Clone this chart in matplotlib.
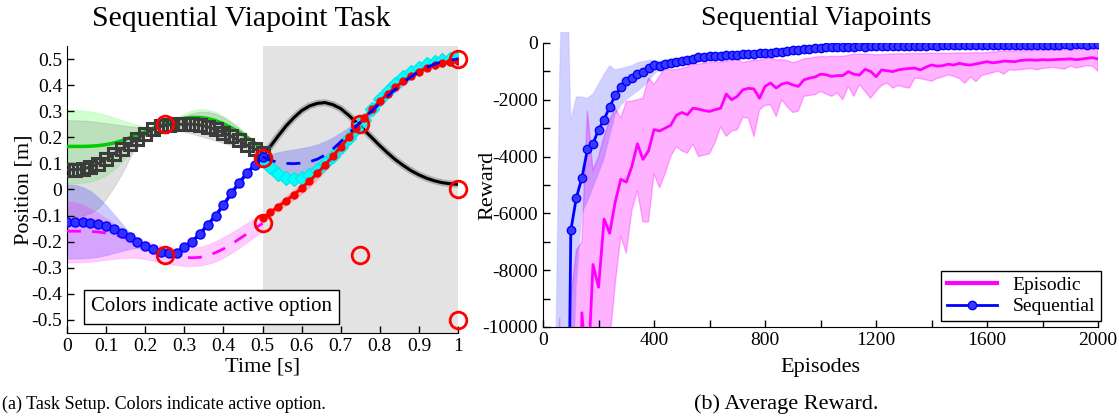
import numpy as np
import matplotlib
matplotlib.use("Agg")
import matplotlib.pyplot as plt
from matplotlib.patches import Rectangle

plt.rcParams['font.family'] = 'serif'
plt.rcParams['font.serif'] = ['Liberation Serif', 'DejaVu Serif']
plt.rcParams['axes.unicode_minus'] = False

# ---------------- left panel: trajectories over time ----------------
t_a = np.round(np.arange(0, 0.501, 0.02), 2)      # first half (0 .. 0.5)
t_b = np.round(np.arange(0.5, 1.001, 0.02), 2)    # second half (0.5 .. 1)

square_y = [0.075, 0.076, 0.079, 0.086, 0.099, 0.117, 0.136, 0.155, 0.175, 0.195, 0.214, 0.23, 0.242,
            0.248, 0.25, 0.25, 0.25, 0.247, 0.24, 0.23, 0.218, 0.204, 0.188, 0.17, 0.155, 0.14]
square_hi = [0.265, 0.265, 0.264, 0.262, 0.258, 0.254, 0.25, 0.246, 0.242, 0.238, 0.236, 0.235, 0.24,
             0.25, 0.265, 0.28, 0.292, 0.298, 0.297, 0.29, 0.276, 0.257, 0.235, 0.21, 0.185, 0.16]
square_lo = [-0.105, -0.104, -0.1, -0.09, -0.07, -0.035, 0.01, 0.06, 0.12, 0.175, 0.21, 0.226, 0.232,
             0.232, 0.228, 0.222, 0.214, 0.205, 0.196, 0.187, 0.178, 0.17, 0.161, 0.152, 0.144, 0.135]

green_y = [0.165, 0.165, 0.165, 0.166, 0.168, 0.172, 0.178, 0.187, 0.198, 0.21, 0.222, 0.235, 0.247,
           0.258, 0.267, 0.273, 0.276, 0.276, 0.272, 0.264, 0.252, 0.237, 0.22, 0.2, 0.178, 0.155]
green_hi = [0.305, 0.305, 0.303, 0.299, 0.293, 0.285, 0.276, 0.266, 0.256, 0.247, 0.241, 0.238, 0.242,
            0.255, 0.273, 0.29, 0.303, 0.308, 0.306, 0.297, 0.282, 0.262, 0.238, 0.21, 0.18, 0.155]
green_lo = [0.024, 0.024, 0.026, 0.03, 0.04, 0.055, 0.077, 0.105, 0.138, 0.172, 0.205, 0.228, 0.238,
            0.24, 0.24, 0.24, 0.24, 0.238, 0.232, 0.222, 0.21, 0.196, 0.18, 0.165, 0.152, 0.14]

dots_y = [-0.123, -0.123, -0.124, -0.127, -0.132, -0.14, -0.152, -0.167, -0.183, -0.2, -0.215, -0.23, -0.24,
          -0.245, -0.243, -0.22, -0.2, -0.17, -0.135, -0.1, -0.06, -0.015, 0.025, 0.062, 0.095, 0.125]
dots_hi = [0.02, 0.018, 0.01, -0.005, -0.03, -0.06, -0.095, -0.13, -0.165, -0.195, -0.215, -0.23, -0.238, -0.24]
dots_lo = [-0.265, -0.265, -0.264, -0.262, -0.258, -0.252, -0.244, -0.236, -0.228, -0.224, -0.226, -0.235,
           -0.245, -0.25]

mag_y = [-0.16, -0.16, -0.16, -0.161, -0.163, -0.167, -0.173, -0.181, -0.19, -0.2, -0.212, -0.224, -0.236,
         -0.247, -0.255, -0.26, -0.262, -0.26, -0.253, -0.242, -0.228, -0.21, -0.19, -0.17, -0.15, -0.13]
mag_hi = [-0.045, -0.048, -0.057, -0.072, -0.09, -0.11, -0.13, -0.15, -0.168, -0.183, -0.196, -0.207, -0.216,
          -0.222, -0.226, -0.227, -0.225, -0.22, -0.211, -0.198, -0.182, -0.165, -0.147, -0.128, -0.11, -0.095]
mag_lo = [-0.28, -0.28, -0.279, -0.277, -0.274, -0.27, -0.266, -0.263, -0.262, -0.263, -0.267, -0.273, -0.28,
          -0.286, -0.29, -0.293, -0.294, -0.292, -0.286, -0.276, -0.262, -0.244, -0.224, -0.203, -0.182, -0.16]

black_y = [0.125, 0.165, 0.205, 0.243, 0.275, 0.302, 0.32, 0.33, 0.333, 0.325, 0.31, 0.285, 0.257,
           0.228, 0.198, 0.168, 0.14, 0.114, 0.092, 0.072, 0.056, 0.043, 0.033, 0.026, 0.022, 0.02]

dash_y = [0.125, 0.112, 0.104, 0.1, 0.099, 0.101, 0.106, 0.116, 0.132, 0.155, 0.183, 0.213, 0.243,
          0.272, 0.302, 0.33, 0.358, 0.385, 0.41, 0.432, 0.452, 0.468, 0.48, 0.49, 0.496, 0.5]
dash_hi = [0.125, 0.135, 0.143, 0.149, 0.154, 0.159, 0.165, 0.173, 0.185, 0.2, 0.218, 0.238, 0.26,
           0.284, 0.31, 0.337, 0.363, 0.39, 0.415, 0.437, 0.457, 0.473, 0.485, 0.494, 0.499, 0.502]
dash_lo = [0.12, 0.09, 0.07, 0.058, 0.052, 0.052, 0.056, 0.066, 0.082, 0.105, 0.135, 0.17, 0.21,
           0.25, 0.285, 0.318, 0.348, 0.375, 0.4, 0.424, 0.446, 0.462, 0.476, 0.487, 0.494, 0.498]

cyan_y = [0.12, 0.085, 0.06, 0.045, 0.04, 0.045, 0.057, 0.075, 0.1, 0.13, 0.163, 0.197, 0.232,
          0.268, 0.31, 0.345, 0.377, 0.405, 0.43, 0.45, 0.467, 0.48, 0.49, 0.497, 0.501, 0.503]

red_y = [-0.11, -0.088, -0.066, -0.043, -0.02, 0.005, 0.032, 0.062, 0.094, 0.128, 0.163, 0.2, 0.237,
         0.273, 0.307, 0.338, 0.366, 0.392, 0.415, 0.435, 0.452, 0.466, 0.477, 0.485, 0.49, 0.492]
red_sd = [0.005, 0.01, 0.014, 0.018, 0.02, 0.022, 0.024, 0.025, 0.025, 0.024, 0.022, 0.02, 0.018,
          0.016, 0.014, 0.012, 0.011, 0.01, 0.009, 0.008, 0.007, 0.006, 0.005, 0.004, 0.004, 0.004]

via_t = [0.25, 0.25, 0.5, 0.5, 0.75, 0.75, 1.0, 1.0, 1.0]
via_y = [0.25, -0.25, 0.12, -0.13, 0.25, -0.25, 0.5, 0.0, -0.5]

# ---------------- right panel: reward curves ----------------
episodes = np.arange(20, 2001, 20)

seq_mean = [-60000, -50000, -40000, -25000, -6600, -5450, -4750, -3750, -3550, -3050,
            -2700, -2250, -1850, -1550, -1350, -1220, -1080, -1040, -900, -780,
            -830, -760, -720, -680, -640, -600, -560, -500, -480, -470,
            -460, -450, -440, -425, -420, -400, -390, -380, -365, -350,
            -340, -320, -305, -290, -260, -240, -220, -205, -190, -170,
            -160, -150, -140, -135, -130, -135, -125, -130, -120, -125,
            -120, -115, -110, -115, -105, -100, -100, -95, -100, -90,
            -95, -90, -85, -90, -80, -85, -80, -75, -80, -75,
            -75, -70, -75, -70, -70, -65, -70, -65, -65, -60,
            -65, -60, -60, -55, -60, -55, -55, -60, -55, -55]
seq_hi = [-40000, -15000, -1000, 6000, -2700, -1900, -1900, -1950, -1800, -1450,
          -1100, -800, -950, -900, -850, -800, -700, -650, -620, -600,
          -640, -600, -570, -540, -510, -480, -450, -420, -400, -395,
          -395, -385, -375, -360, -355, -340, -330, -320, -310, -300,
          -290, -275, -260, -245, -220, -200, -185, -170, -155, -140,
          -130, -120, -110, -105, -100, -105, -95, -100, -90, -95,
          -90, -85, -80, -85, -75, -70, -70, -65, -70, -60,
          -65, -60, -55, -60, -50, -55, -50, -45, -50, -45,
          -45, -40, -45, -40, -40, -35, -40, -35, -35, -30,
          -35, -30, -30, -25, -30, -25, -25, -30, -25, -25]
seq_lo = [-80000, -70000, -60000, -50000, -14000, -8500, -6000, -5600, -5100, -4600,
          -4100, -3300, -2550, -2200, -2000, -1850, -1700, -1550, -1350, -1100,
          -950, -800, -780, -740, -700, -660, -620, -560, -540, -530,
          -520, -510, -500, -485, -480, -460, -450, -440, -420, -400,
          -390, -365, -350, -335, -300, -280, -255, -240, -225, -200,
          -190, -180, -170, -165, -160, -165, -155, -160, -150, -155,
          -150, -145, -140, -145, -135, -130, -130, -125, -130, -120,
          -125, -120, -115, -120, -110, -115, -110, -105, -110, -105,
          -105, -100, -105, -100, -100, -95, -100, -95, -95, -90,
          -95, -90, -90, -85, -90, -85, -85, -90, -85, -85]

epi_mean = [-40000, -38000, -35000, -32000, -28000, -24000, -9500, -12000, -7800, -8600,
            -6200, -6700, -5600, -4800, -4900, -4350, -3550, -4100, -3800, -3050,
            -3100, -3000, -2900, -2550, -2450, -2530, -2300, -2330, -2380, -2410,
            -2350, -2300, -1800, -2000, -1880, -1650, -1600, -1620, -1950, -1530,
            -1410, -1590, -1450, -1400, -1480, -1530, -1300, -1240, -1200, -1100,
            -1120, -1180, -1150, -1150, -1010, -1100, -1130, -930, -1000, -1190,
            -950, -980, -1010, -950, -920, -900, -890, -950, -850, -775,
            -820, -800, -750, -780, -720, -760, -780, -740, -700, -660,
            -700, -680, -640, -650, -660, -620, -600, -600, -610, -590,
            -600, -590, -580, -575, -560, -590, -570, -540, -520, -570]
epi_hi = [-30000, -20000, -9700, -20000, -9000, -7300, -7000, -2400, -4500, -4000,
          -3300, -2700, -2300, -2650, -2070, -2050, -2000, -1950, -1240, -1460,
          -1170, -880, -950, -940, -900, -850, -715, -750, -700, -700,
          -650, -700, -640, -620, -530, -700, -650, -600, -620, -550,
          -530, -600, -590, -620, -700, -640, -560, -540, -500, -480,
          -490, -470, -480, -470, -440, -390, -400, -390, -400, -420,
          -410, -400, -390, -380, -390, -380, -370, -380, -370, -360,
          -370, -360, -370, -360, -350, -360, -350, -340, -350, -340,
          -320, -300, -280, -290, -280, -270, -280, -270, -260, -270,
          -260, -250, -260, -240, -250, -240, -230, -220, -230, -210]
epi_lo = [-60000, -58000, -55000, -52000, -50000, -45000, -40000, -35000, -30000, -25000,
          -13000, -10500, -8500, -6800, -7400, -5900, -5200, -6300, -6300, -4600,
          -5100, -4600, -4000, -3650, -3800, -3880, -3560, -4000, -3950, -3900,
          -3500, -2950, -3290, -3100, -3060, -2620, -2650, -3300, -2360, -2200,
          -2180, -2590, -2000, -2250, -2450, -2400, -1880, -1850, -1820, -1710,
          -1800, -1880, -1760, -2000, -1530, -1880, -1470, -1700, -1950, -1700,
          -1500, -1410, -1590, -1500, -1550, -1590, -1240, -1260, -1300, -1350,
          -1250, -1200, -1120, -1180, -1250, -1420, -1200, -1360, -1150, -1100,
          -1050, -990, -1100, -950, -960, -940, -920, -900, -950, -900,
          -880, -860, -900, -920, -820, -880, -850, -800, -820, -1000]

fig = plt.figure(figsize=(11.19, 4.19), dpi=100)
ax1 = fig.add_axes([0.0599, 0.2053, 0.3494, 0.685])
ax2 = fig.add_axes([0.4853, 0.2196, 0.4960, 0.678])

# ---- left panel ----
ax1.axvspan(0.5, 1.0, color='#e3e3e3', lw=0, zorder=0)

ax1.fill_between(t_a, green_lo, green_hi, facecolor='#00ff00', alpha=0.18, edgecolor='#55ee55', lw=0.8, zorder=1)
ax1.fill_between(t_a, square_lo, square_hi, facecolor='#808080', alpha=0.25, edgecolor='#8c8c8c', lw=0.8, zorder=1)
ax1.fill_between(t_a[:len(dots_hi)], dots_lo, dots_hi, facecolor='#0000ff', alpha=0.2, edgecolor='#6a6aff', lw=0.8, zorder=1)
ax1.fill_between(t_a, mag_lo, mag_hi, facecolor='#ff00ff', alpha=0.2, edgecolor='#ff66ff', lw=0.8, zorder=1)
ax1.fill_between(t_b, dash_lo, dash_hi, facecolor='#0000ff', alpha=0.2, edgecolor='#6a6aff', lw=0.8, zorder=1)
red_arr = np.array(red_y)
ax1.fill_between(t_b, red_arr - red_sd, red_arr + red_sd, facecolor='#ff0000', alpha=0.2, edgecolor='#ff8080', lw=0.6, zorder=1)

ax1.plot(t_a, green_y, color='#00cc00', lw=2.5, zorder=3)
ax1.plot(t_a, square_y, color='#3c3c3c', lw=2.2, marker='s', ms=8, mfc='none', mec='#3c3c3c', mew=2.2, zorder=4)
ax1.plot(t_a, mag_y, color='#ff00ff', lw=2, dashes=(5, 4), zorder=3)
ax1.plot(t_a, dots_y, color='#0000ff', lw=2.5, marker='o', ms=6.5, mfc='#3030ff', mec='#0000ff', zorder=4)
ax1.plot(t_b, black_y, color='#b0b0b0', lw=5, zorder=2)
ax1.plot(t_b, black_y, color='black', lw=2.2, zorder=3)
ax1.plot(t_b, cyan_y, color='#00ffff', lw=2.5, marker='D', ms=7, mfc='#00ffff', mec='#00e8e8', zorder=3)
ax1.plot(t_b, red_y, color='#ff0000', lw=2.2, marker='o', ms=5, zorder=4)
ax1.plot(t_b, dash_y, color='#0000ff', lw=2, dashes=(5, 4), zorder=5)
ax1.plot(via_t, via_y, ls='none', marker='o', ms=12, mfc='none', mec='#ff0000', mew=2, clip_on=False, zorder=6)

ax1.text(0.37, -0.45, 'Colors indicate active option', fontsize=15, ha='center', va='center', zorder=7,
         bbox=dict(boxstyle='square,pad=0.35', fc='white', ec='black', lw=1))

ax1.set_xlim(0, 1)
ax1.set_ylim(-0.55, 0.55)
xt = np.round(np.arange(0, 1.01, 0.1), 1)
ax1.set_xticks(xt)
ax1.set_xticklabels(['0'] + ['%g' % v for v in xt[1:-1]] + ['1'])
yt = np.round(np.arange(-0.5, 0.51, 0.1), 1)
ax1.set_yticks(yt)
ax1.set_yticklabels(['0' if v == 0 else '%g' % v for v in yt])
ax1.set_xlabel('Time [s]', fontsize=16)
ax1.set_ylabel('Position [m]', fontsize=16)
ax1.xaxis.set_label_coords(0.5, -0.085)
ax1.yaxis.set_label_coords(-0.087, 0.5)

# ---- right panel ----
# the sequential band may poke a little above the top of the axes
top_clip = Rectangle((0, 0), 1, 1.04, transform=ax2.transAxes, visible=False)
ax2.add_patch(top_clip)
ax2.fill_between(episodes, epi_lo, epi_hi, facecolor='#ff00ff', alpha=0.3, edgecolor='#ff00ff', lw=1, zorder=1)
seq_band = ax2.fill_between(episodes, seq_lo, seq_hi, facecolor='#0000ff', alpha=0.18, edgecolor='#8080ff',
                            lw=1, zorder=2)
seq_band.set_clip_path(top_clip)
ax2.plot(episodes, epi_mean, color='#ff00ff', lw=2, zorder=3, label='Episodic')
ax2.plot(episodes, seq_mean, color='#0000ff', lw=2, marker='o', ms=6, mfc='#3a3aff', mec='#0000ff',
         zorder=4, label='Sequential')

ax2.set_xlim(0, 2000)
ax2.set_ylim(-10000, 0)
ax2.set_xticks(np.arange(0, 2001, 200), minor=True)
ax2.set_xticks(np.arange(0, 2001, 400))
ax2.set_yticks(np.arange(-10000, 1, 1000), minor=True)
ax2.set_yticks(np.arange(-10000, 1, 2000))
ax2.set_xlabel('Episodes', fontsize=16)
ax2.set_ylabel('Reward', fontsize=16)
ax2.xaxis.set_label_coords(0.5, -0.11)
ax2.yaxis.set_label_coords(-0.083, 0.5)
leg = ax2.legend(loc='lower right', bbox_to_anchor=(1.005, 0.02), borderaxespad=0, fontsize=14,
                 fancybox=False, framealpha=1, edgecolor='black', handlelength=2.6,
                 borderpad=0.3, labelspacing=0.2)
leg.get_frame().set_linewidth(1)
leg.legend_handles[0].set_linewidth(3)

for ax in (ax1, ax2):
    ax.spines['top'].set_visible(False)
    ax.spines['right'].set_visible(False)
    ax.tick_params(which='both', direction='in', labelsize=14, length=5, width=1)
    ax.tick_params(which='minor', length=5)

fig.text(0.216, 0.955, 'Sequential Viapoint Task', fontsize=21.5, ha='center', va='center')
fig.text(0.729, 0.955, 'Sequential Viapoints', fontsize=20, ha='center', va='center')
fig.text(0.002, 0.035, '(a) Task Setup. Colors indicate active option.', fontsize=13, ha='left', va='center')
fig.text(0.7025, 0.035, '(b) Average Reward.', fontsize=16, ha='center', va='center')

fig.savefig('out.png', dpi=100)
